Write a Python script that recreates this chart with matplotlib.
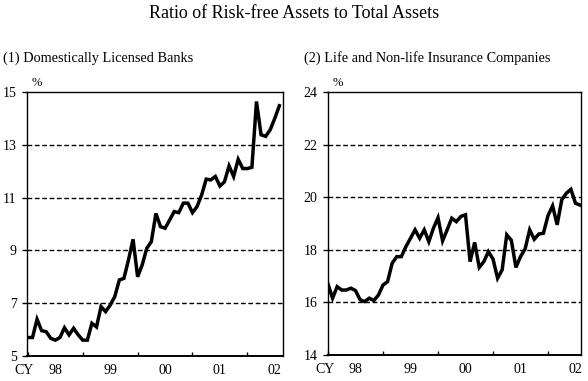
import matplotlib
matplotlib.use('Agg')
import matplotlib.pyplot as plt

plt.rcParams['font.family'] = ['Liberation Serif', 'DejaVu Serif']
plt.rcParams['font.size'] = 10

# monthly, Jan 1998 - Aug 2002 (%)
months = list(range(56))

banks = [5.70, 5.70, 6.39, 5.96, 5.92, 5.67, 5.60, 5.70, 6.07, 5.80, 6.05, 5.80,
         5.60, 5.60, 6.24, 6.10, 6.87, 6.68, 6.93, 7.25, 7.88, 7.94, 8.64, 9.42,
         8.00, 8.45, 9.08, 9.33, 10.40, 9.90, 9.84, 10.15, 10.47, 10.43, 10.79, 10.79,
         10.43, 10.66, 11.10, 11.70, 11.67, 11.80, 11.44, 11.60, 12.20, 11.80, 12.45, 12.10,
         12.10, 12.15, 14.64, 13.38, 13.32, 13.57, 14.00, 14.48]

insurance = [16.70, 16.16, 16.60, 16.47, 16.47, 16.54, 16.45, 16.10, 16.03, 16.16, 16.07, 16.28,
             16.66, 16.79, 17.49, 17.74, 17.74, 18.12, 18.44, 18.76, 18.44, 18.76, 18.31, 18.82,
             19.22, 18.34, 18.76, 19.20, 19.07, 19.27, 19.33, 17.55, 18.28, 17.33, 17.55, 17.93,
             17.65, 16.92, 17.24, 18.57, 18.36, 17.33, 17.74, 18.03, 18.76, 18.40, 18.60, 18.63,
             19.30, 19.67, 18.95, 19.90, 20.15, 20.30, 19.77, 19.70]

year_starts = [0, 12, 24, 36, 48]
year_mid = [6, 18, 30, 42, 54]
year_labels = ['98', '99', '00', '01', '02']

panels = [
    ('(1) Domestically Licensed Banks', banks, [5, 7, 9, 11, 13, 15], (-0.2, 55.8)),
    ('(2) Life and Non-life Insurance Companies', insurance, [14, 16, 18, 20, 22, 24], (0, 55.2)),
]
rects = [[27 / 588, 25 / 381, 256 / 588, 264 / 381],
         [328 / 588, 26 / 381, 253 / 588, 263 / 381]]

fig = plt.figure(figsize=(5.88, 3.81), dpi=100)
fig.patch.set_facecolor('white')

fig.text(0.5, 1 - 13 / 381, 'Ratio of Risk-free Assets to Total Assets',
         ha='center', va='center', fontsize=13)

for (title, vals, yt, xl), rect in zip(panels, rects):
    ax = fig.add_axes(rect)
    ax.plot(months, vals, color='black', lw=2.5, solid_joinstyle='miter')
    ax.set_xlim(*xl)
    ax.set_ylim(yt[0], yt[-1])
    ax.set_yticks(yt)
    ax.set_yticklabels([str(v) for v in yt])
    for v in yt[1:-1]:
        ax.axhline(v, color='black', lw=1.0, linestyle=(0, (3.4, 1.9)), zorder=0)
    ax.set_xticks(year_starts)
    ax.set_xticklabels([])
    ax.set_xticks(year_mid, minor=True)
    ax.set_xticklabels(year_labels, minor=True)
    ax.tick_params(axis='x', which='major', direction='in', length=3, width=1)
    ax.tick_params(axis='x', which='minor', length=0, pad=6)
    ax.tick_params(axis='y', direction='out', length=3.4, width=1, pad=4)
    for s in ax.spines.values():
        s.set_linewidth(1.0)
    ax.spines['bottom'].set_linewidth(1.4)
    ax.text(0.02, 1.01, '%', transform=ax.transAxes, ha='left', va='bottom', fontsize=9)
    ax.text(-0.01, -0.032, 'CY', transform=ax.transAxes, ha='center', va='top')
    bx = rect[0]
    fig.text(bx - 24 / 588, 1 - 58 / 381, title, ha='left', va='center', fontsize=10.3)

fig.savefig('out.png', dpi=100)
